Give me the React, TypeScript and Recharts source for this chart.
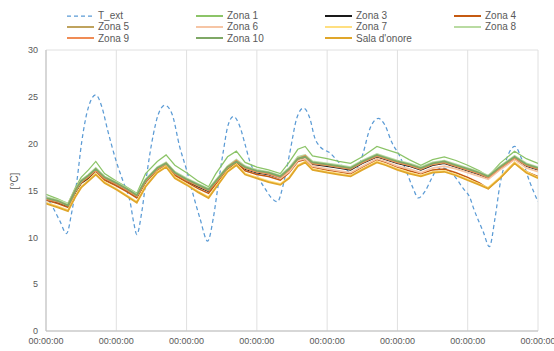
import { LineChart, Line, XAxis, YAxis, CartesianGrid } from "recharts";

// hours since start (7 days)
const zoneHours = [
  0, 4, 7.5, 10, 12, 14.5, 17, 20, 24, 28,
  31, 34, 38, 41, 44, 48, 52, 55.5, 58, 62,
  65, 68, 72, 76, 80, 83, 86, 88.5, 91, 96,
  100, 104, 108, 113, 116, 120, 124, 128, 132, 136,
  140, 144, 148, 151, 155, 160, 164, 168,
];

const zona1 = [
  14.6, 14.1, 13.6, 15.3, 16.4, 17.2, 18.1, 16.8, 16.0, 15.3,
  14.7, 16.8, 18.1, 18.8, 17.7, 16.9, 16.0, 15.4, 16.8, 18.6,
  19.2, 18.0, 17.5, 17.2, 16.8, 18.0, 19.4, 19.7, 18.7, 18.4,
  18.1, 17.9, 18.6, 19.7, 19.4, 19.0, 18.3, 17.7, 18.3, 18.6,
  18.2, 17.7, 17.1, 16.5, 17.9, 19.2, 18.4, 17.9,
];
const zona3 = [
  14.0, 13.7, 13.3, 14.8, 15.8, 16.3, 17.1, 16.2, 15.6, 14.9,
  14.3, 15.9, 17.2, 17.7, 16.7, 16.0, 15.4, 14.9, 15.8, 17.3,
  18.0, 17.3, 16.9, 16.7, 16.3, 17.1, 18.3, 18.5, 17.8, 17.6,
  17.4, 17.2, 17.9, 18.6, 18.3, 17.9, 17.6, 17.2, 17.7, 17.9,
  17.5, 17.1, 16.7, 16.3, 17.3, 18.4, 17.6, 17.2,
];
const zona4 = [
  14.0, 13.6, 13.2, 14.8, 15.8, 16.4, 17.1, 16.1, 15.5, 14.8,
  14.2, 15.9, 17.2, 17.7, 16.6, 15.9, 15.2, 14.7, 15.7, 17.3,
  18.0, 17.1, 16.7, 16.5, 16.1, 16.9, 18.1, 18.3, 17.5, 17.2,
  17.0, 16.8, 17.5, 18.3, 18.0, 17.5, 17.1, 16.8, 17.2, 17.3,
  16.9, 16.4, 15.8, 15.2, 16.3, 18.0, 17.0, 16.5,
];
const zona5 = [
  14.1, 13.8, 13.4, 14.9, 15.9, 16.5, 17.2, 16.3, 15.7, 15.0,
  14.4, 16.0, 17.3, 17.8, 16.8, 16.1, 15.5, 15.0, 15.9, 17.4,
  18.1, 17.4, 17.0, 16.8, 16.4, 17.2, 18.4, 18.6, 17.9, 17.7,
  17.5, 17.3, 18.0, 18.7, 18.4, 18.0, 17.7, 17.3, 17.8, 18.0,
  17.6, 17.2, 16.8, 16.4, 17.4, 18.5, 17.7, 17.3,
];
const zona6 = [
  14.2, 13.9, 13.5, 15.0, 16.0, 16.6, 17.3, 16.4, 15.8, 15.1,
  14.5, 16.1, 17.4, 17.9, 16.9, 16.2, 15.6, 15.1, 16.0, 17.5,
  18.2, 17.4, 17.0, 16.8, 16.3, 17.0, 18.2, 18.4, 17.6, 17.3,
  17.1, 16.9, 17.6, 18.4, 18.1, 17.6, 17.3, 16.9, 17.4, 17.6,
  17.3, 16.9, 16.5, 16.2, 17.2, 18.3, 17.4, 17.0,
];
const zona7 = [
  13.7, 13.3, 12.9, 14.4, 15.4, 16.1, 16.8, 15.9, 15.2, 14.4,
  13.8, 15.5, 17.0, 17.6, 16.4, 15.7, 14.9, 14.3, 15.4, 17.1,
  17.8, 16.8, 16.4, 16.0, 15.7, 16.4, 17.7, 18.1, 17.3, 17.0,
  16.8, 16.6, 17.3, 18.1, 17.8, 17.3, 16.9, 16.6, 17.0, 17.1,
  16.7, 16.2, 15.7, 15.3, 16.4, 18.0, 17.0, 16.4,
];
const zona8 = [
  14.3, 14.0, 13.6, 15.1, 16.1, 16.7, 17.4, 16.5, 15.9, 15.2,
  14.6, 16.2, 17.5, 18.0, 17.0, 16.3, 15.7, 15.2, 16.1, 17.6,
  18.3, 17.6, 17.2, 17.0, 16.6, 17.4, 18.6, 18.8, 18.1, 17.9,
  17.7, 17.5, 18.2, 18.9, 18.6, 18.2, 17.9, 17.5, 18.0, 18.2,
  17.8, 17.4, 17.0, 16.6, 17.6, 18.7, 17.9, 17.5,
];
const zona9 = [
  14.1, 13.8, 13.4, 15.0, 16.0, 16.5, 17.2, 16.3, 15.7, 15.0,
  14.4, 16.0, 17.3, 17.9, 16.8, 16.1, 15.5, 15.0, 15.9, 17.5,
  18.2, 17.4, 17.0, 16.8, 16.4, 17.2, 18.4, 18.7, 17.9, 17.7,
  17.5, 17.3, 18.0, 18.7, 18.4, 18.0, 17.7, 17.3, 17.8, 18.0,
  17.6, 17.2, 16.8, 16.4, 17.4, 18.5, 17.7, 17.3,
];
const zona10 = [
  14.2, 13.9, 13.4, 15.0, 16.0, 16.6, 17.3, 16.4, 15.8, 15.1,
  14.5, 16.1, 17.4, 17.9, 16.9, 16.2, 15.6, 15.1, 16.0, 17.5,
  18.1, 17.5, 17.1, 16.9, 16.5, 17.3, 18.4, 18.6, 18.0, 17.8,
  17.6, 17.4, 18.1, 18.8, 18.5, 18.1, 17.8, 17.4, 17.9, 18.1,
  17.7, 17.3, 16.9, 16.5, 17.5, 18.6, 17.8, 17.4,
];
const salaOnore = [
  13.6, 13.2, 12.8, 14.3, 15.3, 16.0, 16.7, 15.8, 15.1, 14.3,
  13.7, 15.4, 16.9, 17.5, 16.3, 15.6, 14.8, 14.2, 15.3, 17.0,
  17.7, 16.7, 16.3, 15.9, 15.6, 16.3, 17.6, 18.0, 17.2, 16.9,
  16.7, 16.5, 17.2, 18.0, 17.7, 17.2, 16.8, 16.5, 16.9, 17.0,
  16.6, 16.1, 15.6, 15.2, 16.3, 17.9, 16.9, 16.3,
];

const extHours = [
  0, 2.5, 4.8, 7, 8.8, 10.5, 12.2, 14.4, 17, 19,
  21, 24, 26.4, 28.7, 30, 31, 32.7, 34.4, 36.6, 38.3,
  40.6, 43, 45.7, 48, 50.3, 52.6, 55.2, 57.1, 58.8, 60.5,
  62.2, 64, 66, 68, 69.6, 71.9, 74.8, 77, 79, 81,
  83.3, 85.6, 87.9, 90.1, 91.8, 93.5, 97, 100, 102.7, 104.4,
  106.6, 108.3, 110.6, 113.5, 115.7, 118, 120.9, 123.1, 125.4, 127.1,
  129.4, 131.7, 133.4, 135.6, 139, 142.5, 144.8, 146, 149.3, 151.4,
  153.3, 155, 157.3, 160.1, 162.4, 165.2, 168,
];
const tExt = [
  14.4, 13.1, 11.7, 10.4, 12.7, 15.9, 20.2, 23.8, 25.2, 24.0,
  21.5, 18.1, 15.9, 13.8, 11.5, 10.3, 12.7, 16.7, 20.9, 23.1,
  24.1, 23.2, 19.6, 17.2, 14.5, 12.0, 9.6, 12.0, 15.6, 19.1,
  22.0, 22.9, 22.0, 19.9, 18.1, 16.7, 15.2, 14.2, 13.8, 15.6,
  19.1, 22.7, 23.8, 22.7, 20.6, 19.7, 19.0, 18.0, 17.2, 16.7,
  17.5, 19.0, 21.6, 22.7, 22.0, 20.2, 18.6, 17.0, 15.2, 14.2,
  14.9, 16.3, 17.2, 17.4, 16.7, 15.2, 14.2, 13.1, 10.6, 9.0,
  12.0, 15.6, 18.4, 19.7, 18.4, 15.9, 13.8,
];

const dayTicks = [0, 24, 48, 72, 96, 120, 144, 168];
const yTicks = [0, 5, 10, 15, 20, 25, 30];

const zoneSeries = [
  { key: "zona1", name: "Zona 1", color: "#8CC468", width: 1.25 },
  { key: "zona3", name: "Zona 3", color: "#1A1A1A", width: 1.5 },
  { key: "zona4", name: "Zona 4", color: "#C55A11", width: 1.5 },
  { key: "zona5", name: "Zona 5", color: "#BFA35E", width: 1.75 },
  { key: "zona6", name: "Zona 6", color: "#F6C5A5", width: 1.75 },
  { key: "zona7", name: "Zona 7", color: "#FFDF80", width: 1.75 },
  { key: "zona8", name: "Zona 8", color: "#B9DBA2", width: 1.75 },
  { key: "zona9", name: "Zona 9", color: "#F08C55", width: 1.75 },
  { key: "zona10", name: "Zona 10", color: "#7FA866", width: 1.75 },
  { key: "sala", name: "Sala d'onore", color: "#E0A62A", width: 1.75 },
];

const legendOrder = [
  { name: "T_ext", color: "#5B9BD5", dashed: true },
  { name: "Zona 1", color: "#8CC468" },
  { name: "Zona 3", color: "#1A1A1A" },
  { name: "Zona 4", color: "#C55A11" },
  { name: "Zona 5", color: "#BFA35E" },
  { name: "Zona 6", color: "#F6C5A5" },
  { name: "Zona 7", color: "#FFDF80" },
  { name: "Zona 8", color: "#B9DBA2" },
  { name: "Zona 9", color: "#F08C55" },
  { name: "Zona 10", color: "#7FA866" },
  { name: "Sala d'onore", color: "#E0A62A" },
];

const font = "'Liberation Sans', Arial, sans-serif";

export default function App() {
  const zoneData = zoneHours.map((h, i) => ({
    h,
    zona1: zona1[i],
    zona3: zona3[i],
    zona4: zona4[i],
    zona5: zona5[i],
    zona6: zona6[i],
    zona7: zona7[i],
    zona8: zona8[i],
    zona9: zona9[i],
    zona10: zona10[i],
    sala: salaOnore[i],
  }));
  const extData = extHours.map((h, i) => ({ h, t: tExt[i] }));

  return (
    <div style={{ position: "absolute", left: 0, top: 0, width: 554, height: 351, background: "#fff", fontFamily: font }}>
      {legendOrder.map((item, i) => {
        const col = i % 4;
        const row = Math.floor(i / 4);
        return (
          <div
            key={item.name}
            style={{
              position: "absolute",
              left: 67 + col * 129,
              top: 10 + row * 11.3,
              height: 11,
              display: "flex",
              alignItems: "center",
              fontSize: 10,
              color: "#595959",
              whiteSpace: "nowrap",
            }}
          >
            <svg width={29} height={4} style={{ marginRight: 2 }}>
              <line
                x1={0}
                y1={2}
                x2={27}
                y2={2}
                stroke={item.color}
                strokeWidth={item.dashed ? 1.25 : 2}
                strokeDasharray={item.dashed ? "4 3" : undefined}
              />
            </svg>
            {item.name}
          </div>
        );
      })}
      <div
        style={{
          position: "absolute",
          left: 14,
          top: 181,
          transform: "translate(-50%, -50%) rotate(-90deg)",
          fontSize: 10,
          color: "#595959",
          whiteSpace: "nowrap",
        }}
      >
        [°C]
      </div>
      <LineChart width={554} height={351} margin={{ top: 50, right: 16, bottom: 0, left: 0 }}>
        <CartesianGrid stroke="#E0E0E0" strokeWidth={1} />
        <XAxis
          dataKey="h"
          type="number"
          domain={[0, 168]}
          ticks={dayTicks}
          tickFormatter={() => "00:00:00"}
          height={20}
          tickLine={false}
          tickSize={5}
          tickMargin={2}
          axisLine={{ stroke: "#BFBFBF" }}
          tick={{ fontSize: 9, fill: "#595959", fontFamily: font }}
          interval={0}
          allowDataOverflow
        />
        <YAxis
          yAxisId="l"
          type="number"
          domain={[0, 30]}
          ticks={yTicks}
          width={46}
          tickLine={false}
          tickSize={8}
          tickMargin={0}
          axisLine={{ stroke: "#BFBFBF" }}
          tick={{ fontSize: 9, fill: "#595959", fontFamily: font }}
        />
        <YAxis
          yAxisId="r"
          orientation="right"
          type="number"
          domain={[0, 30]}
          width={0}
          tick={false}
          tickLine={false}
          axisLine={{ stroke: "#A6A6A6", strokeWidth: 1.5 }}
        />
        <Line
          yAxisId="l"
          data={extData}
          dataKey="t"
          name="T_ext"
          type="monotone"
          stroke="#5B9BD5"
          strokeWidth={1.25}
          strokeDasharray="4 3"
          dot={false}
          isAnimationActive={false}
        />
        {zoneSeries.map((s) => (
          <Line
            key={s.key}
            yAxisId="l"
            data={zoneData}
            dataKey={s.key}
            name={s.name}
            type="linear"
            stroke={s.color}
            strokeWidth={s.width}
            dot={false}
            isAnimationActive={false}
          />
        ))}
      </LineChart>
    </div>
  );
}
